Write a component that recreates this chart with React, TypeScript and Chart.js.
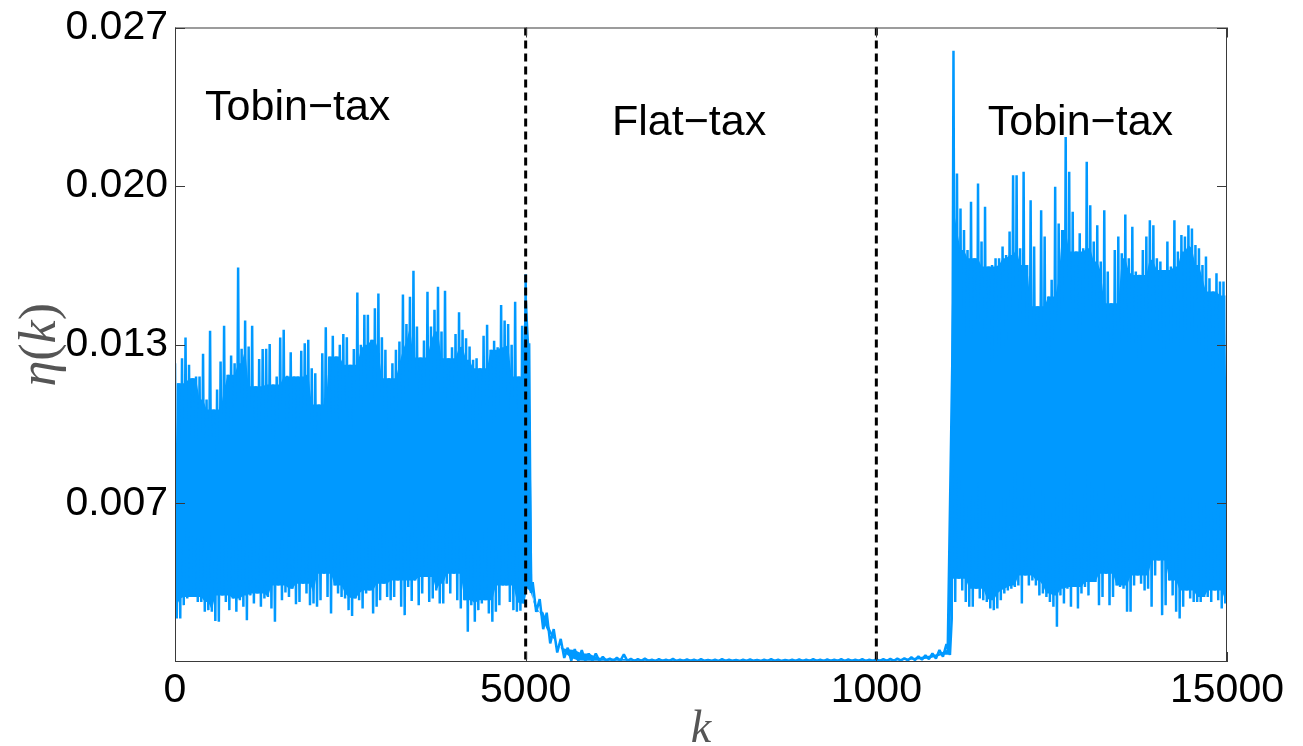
import { useEffect, useRef } from "react";
import { Chart, registerables } from "chart.js";

Chart.register(...registerables);

// ---- axis ranges and tick labels ----
const K_MAX = 15000;
const ETA_MAX = 0.026667;
const xTickValues = [0, 5000, 10000, 15000];
const xTickLabels = ["0", "5000", "1000", "15000"];
const yTickValues = [0.006667, 0.013333, 0.02, 0.026667];
const yTickLabels = ["0.007", "0.013", "0.020", "0.027"];

// policy switches (dashed markers) and regime names
const regimeSwitchK = [5000, 10000];
const regimeNames = ["Tobin−tax", "Flat−tax", "Tobin−tax"];

// ---- η(k) samples: local peaks and troughs of the simulated series ----
// Tobin-tax phase 1: peaks at k = 0, 50, ..., 4950; troughs at k = 25, 75, ..., 4975
const phase1Peaks = [
  0.01256, 0.01172, 0.01277, 0.01364, 0.01249, 0.01193, 0.012, 0.012, 0.01295, 0.01103,
  0.01392, 0.01061, 0.01145, 0.01263, 0.01413, 0.01207, 0.01288, 0.01256, 0.01658, 0.01316,
  0.01435, 0.01326, 0.01413, 0.01159, 0.01273, 0.01315, 0.01316, 0.01336, 0.01166, 0.012,
  0.01364, 0.01396, 0.01203, 0.01302, 0.012, 0.012, 0.01308, 0.0134, 0.01354, 0.01235,
  0.01214, 0.01082, 0.01298, 0.01407, 0.01284, 0.01371, 0.01284, 0.01333, 0.01379, 0.01365,
  0.01249, 0.01315, 0.01553, 0.01333, 0.01459, 0.01459, 0.01354, 0.01487, 0.01549, 0.01365,
  0.01312, 0.01193, 0.01256, 0.01312, 0.01347, 0.01545, 0.01421, 0.01535, 0.01644, 0.0141,
  0.0128, 0.01351, 0.01556, 0.0141, 0.0148, 0.01577, 0.01389, 0.0156, 0.01277, 0.01323,
  0.01379, 0.0147, 0.01396, 0.01361, 0.01326, 0.0127, 0.01277, 0.01235, 0.01371, 0.01417,
  0.01312, 0.0135, 0.01323, 0.015, 0.01435, 0.01421, 0.01333, 0.01514, 0.012, 0.01413,
];
const phase1Troughs = [
  0.00183, 0.00183, 0.00239, 0.00267, 0.00273, 0.00273, 0.00252, 0.00252, 0.00211, 0.00218,
  0.00211, 0.00172, 0.00169, 0.0028, 0.00252, 0.00218, 0.00267, 0.00211, 0.0026, 0.00232,
  0.00176, 0.0028, 0.00246, 0.00288, 0.00232, 0.00267, 0.00273, 0.00225, 0.00169, 0.00322,
  0.0026, 0.00292, 0.00273, 0.00308, 0.00243, 0.00252, 0.00329, 0.00288, 0.00239, 0.00246,
  0.00232, 0.0026, 0.00371, 0.00273, 0.00204, 0.00322, 0.00288, 0.00273, 0.00267, 0.00218,
  0.00193, 0.00267, 0.0026, 0.00225, 0.00288, 0.00301, 0.00204, 0.00232, 0.0026, 0.00329,
  0.00273, 0.0026, 0.00273, 0.00343, 0.00232, 0.00197, 0.00315, 0.00256, 0.00343, 0.00239,
  0.00288, 0.00357, 0.00252, 0.00267, 0.00301, 0.00246, 0.00246, 0.00329, 0.00288, 0.00371,
  0.0026, 0.00225, 0.0026, 0.00127, 0.00239, 0.00169, 0.00218, 0.00246, 0.0026, 0.00204,
  0.00169, 0.00211, 0.00239, 0.00322, 0.00322, 0.00252, 0.00218, 0.00211, 0.00215, 0.00246,
];

// switch to the flat tax: peaks at k = 5000, 5050; troughs at k = 5025, 5075
const switchPeaks = [0.0163, 0.0134];
const switchTroughs = [0.0031, 0.0029];

// flat-tax phase: peaks at k = 5100, 5200, ..., 11000; troughs at k = 5150, ..., 11050
const flatPeaks = [
  0.00336, 0.00264, 0.00207, 0.00138, 0.00097, 0.0006, 0.00054, 0.0005, 0.00036, 0.00036,
  0.00022, 0.00015, 0.00018, 0.00032, 0.00013, 0.00012, 0.00014, 0.0001, 0.00012, 0.0001,
  0.00013, 0.0001, 0.00011, 0.0001, 0.00012, 0.00009, 0.0001, 0.00012, 0.0001, 0.00009,
  0.0001, 0.00011, 0.00009, 0.0001, 0.00012, 0.0001, 0.00009, 0.0001, 0.00011, 0.0001,
  0.00012, 0.0001, 0.00011, 0.0001, 0.00012, 0.00011, 0.0001, 0.00012, 0.0001, 0.00011,
  0.00012, 0.00013, 0.00014, 0.00016, 0.0002, 0.00024, 0.00028, 0.00036, 0.0005, 0.00075,
];
const flatTroughs = [
  0.00211, 0.00138, 0.00078, 0.0004, 0.00017, 0.00006, 0.00005, 0.00005, 0.00004, 0.00005,
  0.00005, 0.00004, 0.00005, 0.00005, 0.00004, 0.00005, 0.00005, 0.00004, 0.00005, 0.00005,
  0.00004, 0.00005, 0.00005, 0.00004, 0.00005, 0.00005, 0.00004, 0.00005, 0.00005, 0.00004,
  0.00005, 0.00005, 0.00004, 0.00005, 0.00005, 0.00004, 0.00005, 0.00005, 0.00004, 0.00005,
  0.00005, 0.00004, 0.00005, 0.00005, 0.00004, 0.00005, 0.00005, 0.00004, 0.00005, 0.00005,
  0.00005, 0.00005, 0.00006, 0.00007, 0.00008, 0.0001, 0.00012, 0.00015, 0.00022, 0.0003,
];

// Tobin-tax phase 2: troughs at k = 11075, 11125, ..., 14975; peaks at k = 11100, ..., 15000
const phase2Troughs = [
  0.0018, 0.00252, 0.0035, 0.00301, 0.00252, 0.00232, 0.00232, 0.00308, 0.00267, 0.0026,
  0.00252, 0.00225, 0.00218, 0.00225, 0.0026, 0.00288, 0.00301, 0.00308, 0.00315, 0.00322,
  0.00246, 0.00364, 0.00322, 0.00343, 0.00322, 0.0028, 0.00288, 0.00273, 0.00252, 0.00232,
  0.00148, 0.0028, 0.00246, 0.00308, 0.00232, 0.00315, 0.00225, 0.00288, 0.00315, 0.0028,
  0.00336, 0.00336, 0.00239, 0.00273, 0.00371, 0.00239, 0.00273, 0.00322, 0.00315, 0.00308,
  0.00211, 0.00211, 0.00322, 0.00364, 0.00329, 0.00301, 0.00308, 0.00232, 0.00364, 0.00427,
  0.00197, 0.00239, 0.00343, 0.0028, 0.00211, 0.00183, 0.00232, 0.00301, 0.00267, 0.00252,
  0.00252, 0.00252, 0.00273, 0.00273, 0.00252, 0.00301, 0.0026, 0.00225, 0.00246,
];
const phase2Peaks = [
  0.02569, 0.02053, 0.01906, 0.01816, 0.01732, 0.01934, 0.01697, 0.02011, 0.01767, 0.01913,
  0.01662, 0.01669, 0.01697, 0.01697, 0.01746, 0.01711, 0.01809, 0.02046, 0.02046, 0.01739,
  0.0206, 0.01669, 0.01941, 0.01746, 0.01495, 0.01899, 0.01788, 0.01536, 0.01606, 0.01997,
  0.01843, 0.01816, 0.02206, 0.0206, 0.01892, 0.01725, 0.01802, 0.01739, 0.02102, 0.0192,
  0.01767, 0.01836, 0.01683, 0.01899, 0.01641, 0.01508, 0.01732, 0.01788, 0.01718, 0.01881,
  0.01697, 0.01829, 0.01641, 0.01627, 0.01732, 0.01788, 0.01857, 0.01836, 0.01697, 0.01683,
  0.01648, 0.01767, 0.01662, 0.01857, 0.01725, 0.01795, 0.01788, 0.01836, 0.01822, 0.01753,
  0.01739, 0.01669, 0.01704, 0.01613, 0.01557, 0.01634, 0.01599, 0.01599, 0.0154,
];

type Pt = { x: number; y: number };
type Run = { peaks: number[]; peakK0: number; troughs: number[]; troughK0: number; dk: number; reach: number };

// runs of the series; `reach` = neighbours used for the densely covered core
const runs: Run[] = [
  { peaks: phase1Peaks, peakK0: 0, troughs: phase1Troughs, troughK0: 25, dk: 50, reach: 2 },
  { peaks: switchPeaks, peakK0: 5000, troughs: switchTroughs, troughK0: 5025, dk: 50, reach: 0 },
  { peaks: flatPeaks, peakK0: 5100, troughs: flatTroughs, troughK0: 5150, dk: 100, reach: 1 },
  { peaks: phase2Peaks, peakK0: 11100, troughs: phase2Troughs, troughK0: 11075, dk: 50, reach: 2 },
];

const byK = (a: Pt, b: Pt) => a.x - b.x;

// full trace: peaks and troughs in k order
const etaTrace: Pt[] = runs
  .flatMap((r) => [
    ...r.peaks.map((v, i) => ({ x: r.peakK0 + i * r.dk, y: v })),
    ...r.troughs.map((v, i) => ({ x: r.troughK0 + i * r.dk, y: v })),
  ])
  .sort(byK);

// the dense core of the trace: at each sample the lowest nearby peak / highest nearby trough
function nearby(vals: number[], i: number, reach: number, pick: (...n: number[]) => number) {
  return pick(...vals.slice(Math.max(0, i - reach), i + reach + 1));
}
const coreUpper: Pt[] = runs
  .flatMap((r) => r.peaks.map((_, i) => ({ x: r.peakK0 + i * r.dk, y: nearby(r.peaks, i, r.reach, Math.min) })))
  .sort(byK);
const coreLower: Pt[] = runs
  .flatMap((r) => r.troughs.map((_, i) => ({ x: r.troughK0 + i * r.dk, y: nearby(r.troughs, i, r.reach, Math.max) })))
  .sort(byK);

const BLUE = "#0099ff";
const SANS = "'Liberation Sans', Arial, Helvetica, sans-serif";
const SERIF = "'Liberation Serif', 'Times New Roman', serif";

// frame, inward ticks, regime captions and axis titles
const framePlugin = {
  id: "matlabFrame",
  afterDraw(chart: any) {
    const { ctx, chartArea: a, scales } = chart;
    const xs = scales.x;
    const ys = scales.y;
    ctx.save();

    // box
    ctx.strokeStyle = "#3a3a3a";
    ctx.lineWidth = 1;
    ctx.strokeRect(a.left + 0.5, a.top + 0.5, a.right - a.left - 1, a.bottom - a.top - 1);

    // inward tick marks on all four sides
    ctx.beginPath();
    yTickValues.forEach((v) => {
      const py = Math.round(ys.getPixelForValue(v)) + 0.5;
      ctx.moveTo(a.left, py);
      ctx.lineTo(a.left + 10, py);
      ctx.moveTo(a.right, py);
      ctx.lineTo(a.right - 10, py);
    });
    xTickValues.forEach((v) => {
      const px = Math.round(xs.getPixelForValue(v)) + 0.5;
      ctx.moveTo(px, a.bottom);
      ctx.lineTo(px, a.bottom - 10);
      ctx.moveTo(px, a.top);
      ctx.lineTo(px, a.top + 10);
    });
    ctx.stroke();

    // regime captions
    ctx.fillStyle = "#000";
    ctx.font = `43px ${SANS}`;
    ctx.textAlign = "center";
    ctx.textBaseline = "alphabetic";
    const captionAt: [number, number][] = [
      [1750, 0.0228],
      [7330, 0.02215],
      [12910, 0.02215],
    ];
    regimeNames.forEach((name, i) => {
      const [k, v] = captionAt[i];
      ctx.fillText(name, xs.getPixelForValue(k), ys.getPixelForValue(v));
    });

    // axis titles (math italic)
    ctx.fillStyle = "#555";
    const drawMath = (parts: [string, boolean][], size: number) => {
      const widths = parts.map(([s, it]) => {
        ctx.font = `${it ? "italic " : ""}${size}px ${SERIF}`;
        return ctx.measureText(s).width;
      });
      const total = widths.reduce((p, c) => p + c, 0);
      let x = -total / 2;
      ctx.textAlign = "left";
      parts.forEach(([s, it], i) => {
        ctx.font = `${it ? "italic " : ""}${size}px ${SERIF}`;
        ctx.fillText(s, x, 0);
        x += widths[i];
      });
    };

    ctx.save();
    ctx.translate(55, (a.top + a.bottom) / 2);
    ctx.rotate(-Math.PI / 2);
    drawMath([["η", true], ["(", false], ["k", true], [")", false]], 52);
    ctx.restore();

    ctx.save();
    ctx.translate((a.left + a.right) / 2, 742);
    drawMath([["k", true]], 46);
    ctx.restore();

    ctx.restore();
  },
};

export default function App() {
  const canvasRef = useRef<HTMLCanvasElement | null>(null);

  useEffect(() => {
    const canvas = canvasRef.current;
    if (!canvas) return;

    const markerSets = regimeSwitchK.map((k) => ({
      data: [
        { x: k, y: ETA_MAX },
        { x: k, y: 0 },
      ],
      borderColor: "#000",
      borderWidth: 3,
      borderDash: [8, 5],
      pointRadius: 0,
      fill: false,
      order: 0,
    }));

    const chart = new Chart(canvas, {
      type: "line",
      data: {
        datasets: [
          {
            data: etaTrace,
            borderColor: BLUE,
            borderWidth: 2.5,
            borderJoinStyle: "bevel",
            pointRadius: 0,
            tension: 0,
            fill: false,
            order: 1,
          },
          {
            data: coreUpper,
            borderWidth: 0,
            borderColor: BLUE,
            backgroundColor: BLUE,
            pointRadius: 0,
            fill: "+1",
            order: 2,
          },
          {
            data: coreLower,
            borderWidth: 0,
            borderColor: BLUE,
            pointRadius: 0,
            fill: false,
            order: 2,
          },
          ...markerSets,
        ],
      },
      options: {
        responsive: false,
        animation: false,
        parsing: false,
        layout: { padding: { left: 0, top: 25, right: 76, bottom: 0 } },
        plugins: {
          legend: { display: false },
          tooltip: { enabled: false },
        },
        scales: {
          x: {
            type: "linear",
            min: 0,
            max: K_MAX,
            grid: { display: false, drawTicks: false, tickLength: 0 },
            border: { display: false },
            afterBuildTicks: (s: any) => {
              s.ticks = xTickValues.map((v) => ({ value: v }));
            },
            afterFit: (s: any) => {
              s.height = 84;
            },
            ticks: {
              padding: 8,
              color: "#000",
              font: { family: SANS, size: 41, lineHeight: 1 },
              maxRotation: 0,
              callback: (_v: any, i: number) => xTickLabels[i],
            },
          },
          y: {
            type: "linear",
            min: 0,
            max: ETA_MAX,
            grid: { display: false, drawTicks: false, tickLength: 0 },
            border: { display: false },
            afterBuildTicks: (s: any) => {
              s.ticks = yTickValues.map((v) => ({ value: v }));
            },
            afterFit: (s: any) => {
              s.width = 175;
            },
            ticks: {
              padding: 7,
              color: "#000",
              font: { family: SANS, size: 41, lineHeight: 1 },
              callback: (_v: any, i: number) => yTickLabels[i],
            },
          },
        },
      },
      plugins: [framePlugin],
    });

    return () => chart.destroy();
  }, []);

  return (
    <div style={{ position: "fixed", left: 0, top: 0, width: 1303, height: 746, background: "#fff" }}>
      <canvas ref={canvasRef} width={1303} height={746} />
    </div>
  );
}
